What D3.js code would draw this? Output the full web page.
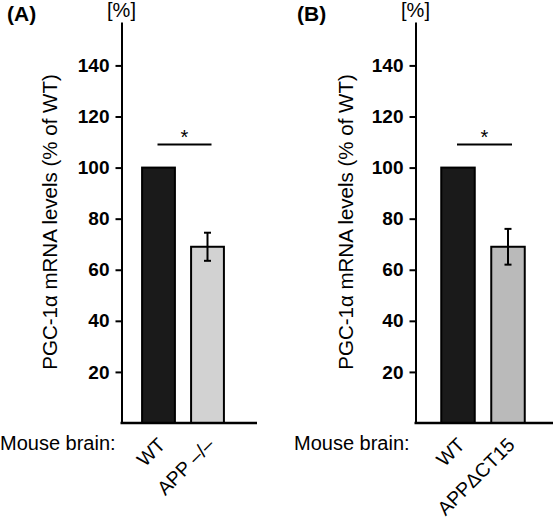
<!DOCTYPE html>
<html><head><meta charset="utf-8">
<script src="https://cdn.jsdelivr.net/npm/d3@7"></script>
<style>
body{margin:0;background:#fff;}
svg{display:block;font-family:"Liberation Sans",Arial,sans-serif;}
</style></head>
<body><svg id="c" width="553" height="519"></svg>
<script>
const categoriesA = ["WT", "APP \u2013/\u2013"];
const valuesA = [100, 69];
const errorsA = [0, 5.5];
const colorsA = ["#1a1a1a", "#d2d2d2"];
const categoriesB = ["WT", "APP\u0394CT15"];
const valuesB = [100, 69];
const errorsB = [0, 7];
const colorsB = ["#1a1a1a", "#bababa"];
const yTicks = [20, 40, 60, 80, 100, 120, 140];
const yMax = 157;
const sigLevel = 109;
const panelLabels = ["(A)", "(B)"];
const yTitle = "PGC-1\u03b1 mRNA levels (% of WT)";
const xPrefix = "Mouse brain:";

const svg = d3.select("#c");

function panel(opt) {
  const g = svg.append("g");
  const y = d3.scaleLinear().domain([0, yMax]).range([423, 22]);
  const x = d3.scaleBand().domain(opt.cats).range(opt.bandRange).paddingInner(0.33).paddingOuter(0.165);

  // y axis
  const ax = g.append("g").attr("transform", `translate(${opt.axisX},0)`)
    .call(d3.axisLeft(y).tickValues(yTicks).tickSize(6).tickSizeOuter(0).tickPadding(6));
  ax.select(".domain").attr("stroke-width", 2);
  ax.selectAll(".tick line").attr("stroke-width", 2);
  ax.selectAll(".tick text").attr("font-size", 19).attr("font-weight", "bold")
    .attr("font-family", "'Liberation Sans',Arial,sans-serif").attr("fill", "#000");

  // bars
  g.selectAll("rect.bar").data(opt.vals).enter().append("rect")
    .attr("x", (d, i) => x(opt.cats[i]))
    .attr("y", d => y(d))
    .attr("width", x.bandwidth())
    .attr("height", d => y(0) - y(d))
    .attr("fill", (d, i) => opt.colors[i])
    .attr("stroke", "#000").attr("stroke-width", 2);

  // baseline
  g.append("line").attr("x1", opt.axisX - 1).attr("x2", opt.baseEnd)
    .attr("y1", y(0)).attr("y2", y(0)).attr("stroke", "#000").attr("stroke-width", 2.5);

  // error bars
  opt.vals.forEach((v, i) => {
    const e = opt.errs[i];
    if (!e) return;
    const cx = x(opt.cats[i]) + x.bandwidth() / 2;
    g.append("line").attr("x1", cx).attr("x2", cx).attr("y1", y(v + e)).attr("y2", y(v - e))
      .attr("stroke", "#000").attr("stroke-width", 2);
    [v + e, v - e].forEach(t => g.append("line").attr("x1", cx - 3.5).attr("x2", cx + 3.5)
      .attr("y1", y(t)).attr("y2", y(t)).attr("stroke", "#000").attr("stroke-width", 2));
  });

  // significance
  const c0 = x(opt.cats[0]) + x.bandwidth() / 2, c1 = x(opt.cats[1]) + x.bandwidth() / 2;
  g.append("line").attr("x1", c0 - 1).attr("x2", c1 + 4).attr("y1", y(sigLevel)).attr("y2", y(sigLevel))
    .attr("stroke", "#000").attr("stroke-width", 2);
  g.append("text").attr("x", (c0 + c1 + 3) / 2).attr("y", y(sigLevel) - 0.5)
    .attr("text-anchor", "middle").attr("font-size", 20).text("*");

  // x labels
  opt.cats.forEach(c => {
    const cx = x(c) + x.bandwidth() / 2 + 8;
    g.append("text").attr("text-anchor", "end").attr("font-size", 19.5)
      .attr("transform", `translate(${cx},${y(0) + 23}) rotate(-45)`).text(c);
  });
  g.append("text").attr("x", opt.prefixX).attr("y", 450).attr("font-size", 20).text(xPrefix);

  // titles
  g.append("text").attr("x", opt.axisX).attr("y", 17).attr("text-anchor", "middle")
    .attr("font-size", 20).text("[%]");
  g.append("text").attr("x", opt.labelX).attr("y", 21).attr("font-size", 21)
    .attr("font-weight", "bold").text(opt.label);
  g.append("text").attr("transform", `translate(${opt.titleX},222) rotate(-90)`)
    .attr("text-anchor", "middle").attr("font-size", 20.5).text(yTitle);
}

panel({cats: categoriesA, vals: valuesA, errs: errorsA, colors: colorsA,
  axisX: 121.5, bandRange: [134, 232], baseEnd: 257, prefixX: 0, labelX: 7, label: panelLabels[0], titleX: 57});
panel({cats: categoriesB, vals: valuesB, errs: errorsB, colors: colorsB,
  axisX: 415.5, bandRange: [433, 533], baseEnd: 553, prefixX: 294, labelX: 297, label: panelLabels[1], titleX: 353});
</script></body></html>
